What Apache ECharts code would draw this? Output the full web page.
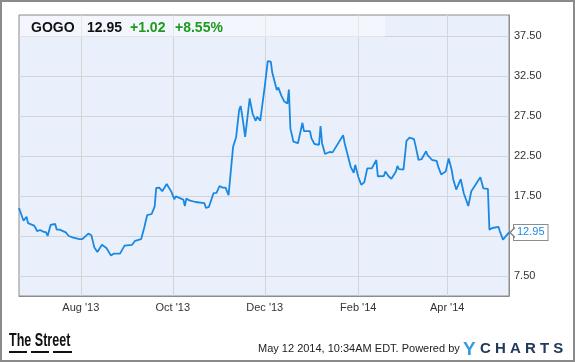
<!DOCTYPE html>
<html><head><meta charset="utf-8">
<script src="https://cdn.jsdelivr.net/npm/echarts@6/dist/echarts.min.js"></script>
<style>html,body{margin:0;padding:0;background:#fff}#c{width:575px;height:362px}</style>
</head><body><div id="c"></div>
<script>
const dates = ['2013-06-21','2013-06-24','2013-06-26','2013-06-27','2013-07-01','2013-07-02','2013-07-03','2013-07-05','2013-07-07','2013-07-09',
'2013-07-10','2013-07-12','2013-07-15','2013-07-16','2013-07-17','2013-07-18','2013-07-19','2013-07-22','2013-07-24','2013-07-27',
'2013-07-31','2013-08-02','2013-08-06','2013-08-08','2013-08-10','2013-08-12','2013-08-15','2013-08-18','2013-08-21','2013-08-23',
'2013-08-27','2013-08-30','2013-09-04','2013-09-06','2013-09-10','2013-09-12','2013-09-14','2013-09-17','2013-09-19','2013-09-20',
'2013-09-22','2013-09-24','2013-09-27','2013-09-30','2013-10-02','2013-10-03','2013-10-08','2013-10-09','2013-10-10','2013-10-12',
'2013-10-16','2013-10-17','2013-10-22','2013-10-23','2013-10-25','2013-10-28','2013-10-30','2013-11-01','2013-11-03','2013-11-05',
'2013-11-07','2013-11-10','2013-11-12','2013-11-14','2013-11-15','2013-11-16','2013-11-18','2013-11-19','2013-11-21','2013-11-23',
'2013-11-25','2013-11-26','2013-11-28','2013-11-29','2013-12-01','2013-12-03','2013-12-05','2013-12-06','2013-12-07','2013-12-09',
'2013-12-10','2013-12-12','2013-12-14','2013-12-16','2013-12-17','2013-12-18','2013-12-20','2013-12-23','2013-12-26','2013-12-27',
'2013-12-31','2014-01-01','2014-01-03','2014-01-06','2014-01-07','2014-01-08','2014-01-09','2014-01-10','2014-01-13','2014-01-15',
'2014-01-16','2014-01-22','2014-01-23','2014-01-27','2014-01-29','2014-01-30','2014-02-01','2014-02-03','2014-02-05','2014-02-07',
'2014-02-10','2014-02-13','2014-02-14','2014-02-18','2014-02-19','2014-02-21','2014-02-23','2014-02-26','2014-02-27','2014-02-28',
'2014-03-03','2014-03-05','2014-03-07','2014-03-10','2014-03-11','2014-03-13','2014-03-15','2014-03-18','2014-03-19','2014-03-22',
'2014-03-25','2014-03-26','2014-03-28','2014-03-31','2014-04-01','2014-04-02','2014-04-04','2014-04-05','2014-04-07','2014-04-10',
'2014-04-12','2014-04-15','2014-04-17','2014-04-23','2014-04-25','2014-04-28','2014-04-29','2014-05-01','2014-05-05','2014-05-06',
'2014-05-08','2014-05-12'];
const prices = [16.0,14.4,14.9,14.1,13.8,13.5,13.1,13.25,13.05,12.95,
12.5,13.9,14.0,13.3,13.1,13.3,13.05,12.95,12.5,12.3,
12.1,12.1,12.8,12.6,11.05,10.5,11.4,11.0,10.05,10.3,
10.3,11.3,11.4,11.9,12.1,13.5,15.1,15.25,16.2,18.5,
18.55,18.1,19.0,18.05,17.1,17.45,17.05,16.25,17.2,16.95,
16.75,16.9,16.6,16.0,16.15,17.85,17.9,18.75,18.55,18.55,
17.6,23.65,24.85,28.25,28.75,27.6,24.9,25.0,29.7,27.75,
26.9,27.4,26.9,26.8,31.2,34.35,34.3,32.9,32.8,30.75,
31.05,30.05,29.3,29.05,30.8,25.95,24.3,24.1,26.65,25.6,
25.6,24.7,24.0,23.9,26.25,24.1,24.2,22.75,23.0,22.95,
22.7,25.1,24.1,21.15,20.4,21.4,19.9,18.9,19.2,20.95,
20.95,22.0,19.95,20.0,20.55,20.0,19.65,20.55,21.25,20.85,
20.8,24.4,24.8,24.6,23.8,22.0,22.1,23.1,22.6,22.0,
21.9,21.2,20.2,20.55,20.65,22.2,20.75,19.6,18.3,19.6,
17.85,16.25,18.1,19.85,18.45,18.4,13.3,13.5,13.65,13.05,
12.05,12.95];
const xTickDates = ['2013-08-01','2013-10-01','2013-12-01','2014-02-01','2014-04-01'];
const xTickLabels = ["Aug '13","Oct '13","Dec '13","Feb '14","Apr '14"];
const yTicks = [7.5,12.5,17.5,22.5,27.5,32.5,37.5];
const yHiddenLabels = [12.5];
const xStart = '2013-06-21', xEnd = '2014-05-12';
const yMin = 5, yMax = 40.125;
const headerTicker = 'GOGO', headerPrice = '12.95', headerChange = '+1.02', headerPct = '+8.55%';
const footerDate = 'May 12 2014, 10:34AM EDT. Powered by';

function ts(s){ return new Date(s + 'T00:00:00').getTime(); }
const seriesData = dates.map((d,i)=>[ts(d), prices[i]]);
const xTickTs = xTickDates.map(ts);
const FONT = '"Liberation Sans", Arial, sans-serif';

const chart = echarts.init(document.getElementById('c'), null, {renderer:'canvas'});
chart.setOption({
  animation:false,
  backgroundColor:'#ffffff',
  grid:{left:19, top:15, right:66, bottom:66, show:true, backgroundColor:'#eaf0fb', borderColor:'#8c8c8c', borderWidth:1},
  xAxis:{
    type:'value', min:ts(xStart), max:ts(xEnd), scale:true,
    axisLine:{show:true, lineStyle:{color:'#8c8c8c'}},
    axisTick:{show:false, customValues:xTickTs},
    axisLabel:{customValues:xTickTs, color:'#333', fontSize:11, fontFamily:FONT, margin:6, hideOverlap:false,
      formatter:function(v){ const i = xTickTs.indexOf(v); return i>=0 ? xTickLabels[i] : ''; }},
    splitLine:{show:true, lineStyle:{color:'#d4d4d4', width:1}}
  },
  yAxis:{
    type:'value', position:'right', min:yMin, max:yMax,
    axisLine:{show:true, lineStyle:{color:'#8c8c8c'}},
    axisTick:{show:false, customValues:yTicks},
    axisLabel:{customValues:yTicks, color:'#333', fontSize:11, fontFamily:FONT, margin:5,
      formatter:function(v){ return yHiddenLabels.indexOf(v)>=0 ? '' : v.toFixed(2); }},
    splitLine:{show:true, lineStyle:{color:'#d4d4d4', width:1}}
  },
  series:[{
    type:'line', data:seriesData, showSymbol:false, symbol:'none',
    lineStyle:{color:'#1a88e3', width:1.8}, z:3,
    endLabel:{show:true, distance:5, formatter:function(p){ return p.value[1].toFixed(2); },
      color:'#1a88e3', fontSize:11, fontFamily:FONT, backgroundColor:'#ffffff',
      borderColor:'#8c8c8c', borderWidth:1, padding:[2,3,2,3]},
    markPoint:{silent:true, symbol:'path://M6,0 L0,5 L6,10', symbolSize:[5,10], symbolOffset:[3.5,0],
      itemStyle:{color:'#ffffff', borderColor:'#7a7a7a', borderWidth:1.2}, label:{show:false},
      data:[{coord:seriesData[seriesData.length-1]}]}
  }],
  graphic:[
    {type:'rect', z:10, shape:{x:20, y:16, width:365, height:20}, style:{fill:'rgba(255,255,255,0.45)'}},
    {type:'line', z:10, shape:{x1:20, y1:36.5, x2:385, y2:36.5}, style:{stroke:'#e2e4ea', lineWidth:1}},
    {type:'text', z:11, left:31, top:21, style:{text:headerTicker, font:'bold 14px '+FONT, fill:'#111'}},
    {type:'text', z:11, left:87, top:21, style:{text:headerPrice, font:'bold 14px '+FONT, fill:'#111'}},
    {type:'text', z:11, left:130, top:21, style:{text:headerChange, font:'bold 14px '+FONT, fill:'#1e9a1e'}},
    {type:'text', z:11, left:175, top:21, style:{text:headerPct, font:'bold 14px '+FONT, fill:'#1e9a1e'}},
    {type:'text', z:11, x:9, y:331, scaleX:0.66, style:{text:'The Street', font:'bold 19px '+FONT, fill:'#111'}},
    {type:'rect', z:11, shape:{x:9, y:351, width:18, height:2}, style:{fill:'#111'}},
    {type:'rect', z:11, shape:{x:31, y:351, width:18, height:2}, style:{fill:'#111'}},
    {type:'rect', z:11, shape:{x:53, y:351, width:19, height:2}, style:{fill:'#111'}},
    {type:'text', z:11, left:258, top:343, style:{text:footerDate, font:'11px '+FONT, fill:'#222'}},
    {type:'text', z:11, left:463, top:340, style:{text:'Y', font:'bold 19px '+FONT, fill:'#3b9be0'}},
    {type:'text', z:11, left:480, top:341, style:{text:'C H A R T S', font:'bold 15px '+FONT, fill:'#21395a'}},
    {type:'rect', z:12, shape:{x:1, y:1, width:573, height:360}, style:{fill:'none', stroke:'#8a8a8a', lineWidth:2}}
  ]
});
</script></body></html>
